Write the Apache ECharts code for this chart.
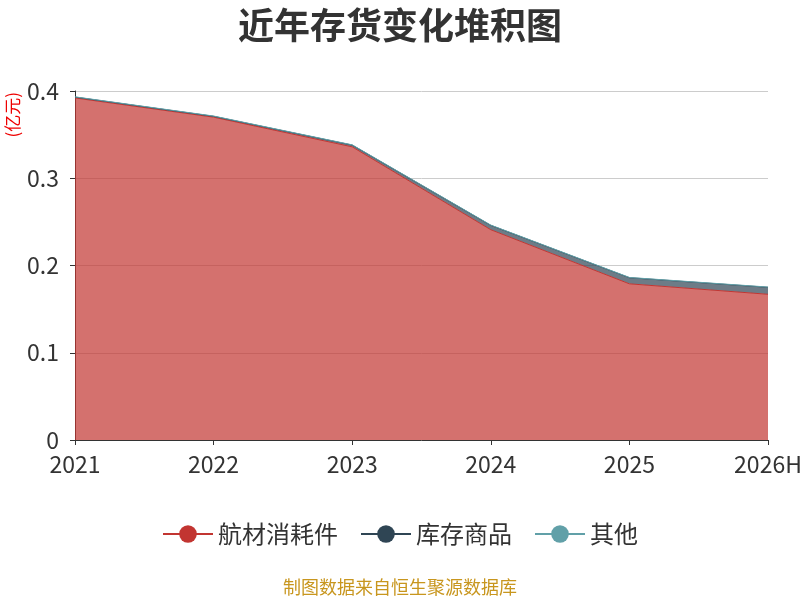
<!DOCTYPE html>
<html>
<head>
<meta charset="utf-8">
<script src="https://cdn.jsdelivr.net/npm/echarts@6/dist/echarts.min.js"></script>
<style>
  html, body { margin: 0; padding: 0; background: #fff; }
  #chart { width: 800px; height: 600px; }
</style>
</head>
<body>
<div id="chart"></div>
<script>
const years = ['2021', '2022', '2023', '2024', '2025', '2026H'];
const hangcaiValues = [0.392, 0.370, 0.336, 0.241, 0.179, 0.167];   // 航材消耗件
const kucunValues = [0.001, 0.001, 0.002, 0.005, 0.007, 0.008];     // 库存商品
const qitaValues = [0.0003, 0.0003, 0.0003, 0.0003, 0.0003, 0.0003]; // 其他
const yTicks = { min: 0, max: 0.4, interval: 0.1 };

const colors = ['#c23531', '#2f4554', '#61a0a8'];
const fontName = '"Noto Sans CJK SC", "Noto Sans", sans-serif';

function areaSeries(name, values) {
    return {
        name: name,
        type: 'line',
        stack: 'total',
        data: values,
        symbol: 'circle',
        showSymbol: false,
        lineStyle: { width: 1 },
        areaStyle: { opacity: 0.7 }
    };
}

const chart = echarts.init(document.getElementById('chart'));
const option = {
    color: colors,
    textStyle: { fontFamily: fontName },
    title: {
        text: '近年存货变化堆积图',
        left: 'center',
        top: 2,
        textStyle: { fontSize: 36, fontWeight: 'bold', color: '#333', fontFamily: fontName }
    },
    legend: {
        bottom: 49,
        left: 'center',
        itemWidth: 50,
        itemHeight: 22,
        itemGap: 22,
        textStyle: { fontSize: 24, color: '#333' },
        data: ['航材消耗件', '库存商品', '其他']
    },
    grid: { left: 75, right: 32, top: 91, bottom: 160, outerBoundsMode: 'none' },
    xAxis: {
        type: 'category',
        boundaryGap: false,
        data: years,
        axisLine: { lineStyle: { color: '#333', width: 1 } },
        axisTick: { lineStyle: { color: '#333' } },
        axisLabel: { fontSize: 23, color: '#333', margin: 13 }
    },
    yAxis: {
        type: 'value',
        min: yTicks.min,
        max: yTicks.max,
        interval: yTicks.interval,
        axisLine: { show: true, lineStyle: { color: '#333' } },
        axisTick: { show: true, lineStyle: { color: '#333' } },
        axisLabel: { fontSize: 23, color: '#333', margin: 16 },
        splitLine: { lineStyle: { color: '#ccc' } }
    },
    graphic: [
        {
            type: 'text',
            left: 4,
            top: 92,
            rotation: Math.PI / 2,
            style: { text: '(亿元)', fontSize: 17, fill: '#e00', fontFamily: fontName }
        },
        {
            type: 'text',
            left: 'center',
            top: 578,
            style: { text: '制图数据来自恒生聚源数据库', fontSize: 18, fill: '#c8961e', fontFamily: fontName }
        }
    ],
    series: [
        areaSeries('航材消耗件', hangcaiValues),
        areaSeries('库存商品', kucunValues),
        areaSeries('其他', qitaValues)
    ]
};
chart.setOption(option);
</script>
</body>
</html>
